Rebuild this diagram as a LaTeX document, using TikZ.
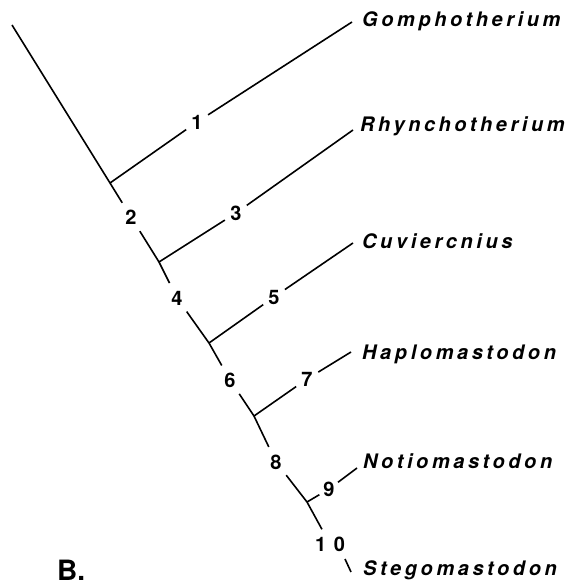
\documentclass[tikz,border=0pt]{standalone}
\usepackage{fontspec}
\setmainfont{TeX Gyre Heros}
\newfontfamily\taxfont[LetterSpace=18]{TeX Gyre Heros}
\newfontfamily\numfont[LetterSpace=10]{TeX Gyre Heros}
\begin{document}
\begin{tikzpicture}[x=1pt,y=-1pt,
  branch/.style={line width=1.6pt},
  stemlab/.style={circle,inner sep=0pt,minimum size=33pt,font=\numfont\fontsize{20}{20}\selectfont\bfseries},
  brlab/.style={circle,inner sep=0pt,minimum size=26pt,font=\numfont\fontsize{20}{20}\selectfont\bfseries},
  taxon/.style={anchor=base west,inner sep=0pt,font=\taxfont\fontsize{20}{20}\selectfont\bfseries\itshape}]
\useasboundingbox (0,0) rectangle (567,585);
% branch points
\coordinate (root) at (12,25);
\coordinate (n1) at (110,183);
\coordinate (n3) at (159,262);
\coordinate (n5) at (209,343);
\coordinate (n7) at (254,416);
\coordinate (n9) at (307,502);
% tips
\coordinate (t1) at (352,22);
\coordinate (t3) at (353,130);
\coordinate (t5) at (353,243);
\coordinate (t7) at (351,352);
\coordinate (t9) at (357,468);
\coordinate (t10a) at (345,559);
\coordinate (t10) at (351,572);
% labels
\node[brlab] (L1) at (197,122) {1};
\node[stemlab] (L2) at (131,217) {2};
\node[brlab] (L3) at (236,213) {3};
\node[stemlab] (L4) at (177,298) {4};
\node[brlab] (L5) at (274,297) {5};
\node[stemlab] (L6) at (230,380) {6};
\node[brlab] (L7) at (307,379) {7};
\node[stemlab] (L8) at (276,462) {8};
\node[brlab,minimum size=22pt] (L9) at (329,489) {9};
\node[stemlab] (L10) at (330,544) {1 0};
% taxa
\node[taxon] (g) at (362,27) {Gomphotherium};
\node[taxon] (r) at (360,132) {Rhynchotherium};
\node[taxon] (c) at (362,248) {Cuviercnius};
\node[taxon] (h) at (362,359) {Haplomastodon};
\node[taxon] (n) at (363,468) {Notiomastodon};
\node[taxon] (s) at (363,575) {Stegomastodon};
\node[anchor=base west,inner sep=0pt,font=\fontsize{28}{28}\selectfont\bfseries] (B) at (57,580) {B.};
% stem
\draw[branch] (root) -- (n1) -- (L2);
\draw[branch] (L2) -- (n3) -- (L4);
\draw[branch] (L4) -- (n5) -- (L6);
\draw[branch] (L6) -- (n7) -- (L8);
\draw[branch] (L8) -- (n9) -- (L10);
\draw[branch] (t10a) -- (t10);
% branches
\draw[branch] (n1) -- (L1) -- (t1);
\draw[branch] (n3) -- (L3) -- (t3);
\draw[branch] (n5) -- (L5) -- (t5);
\draw[branch] (n7) -- (L7) -- (t7);
\draw[branch] (n9) -- (L9) -- (t9);
\end{tikzpicture}
\end{document}
